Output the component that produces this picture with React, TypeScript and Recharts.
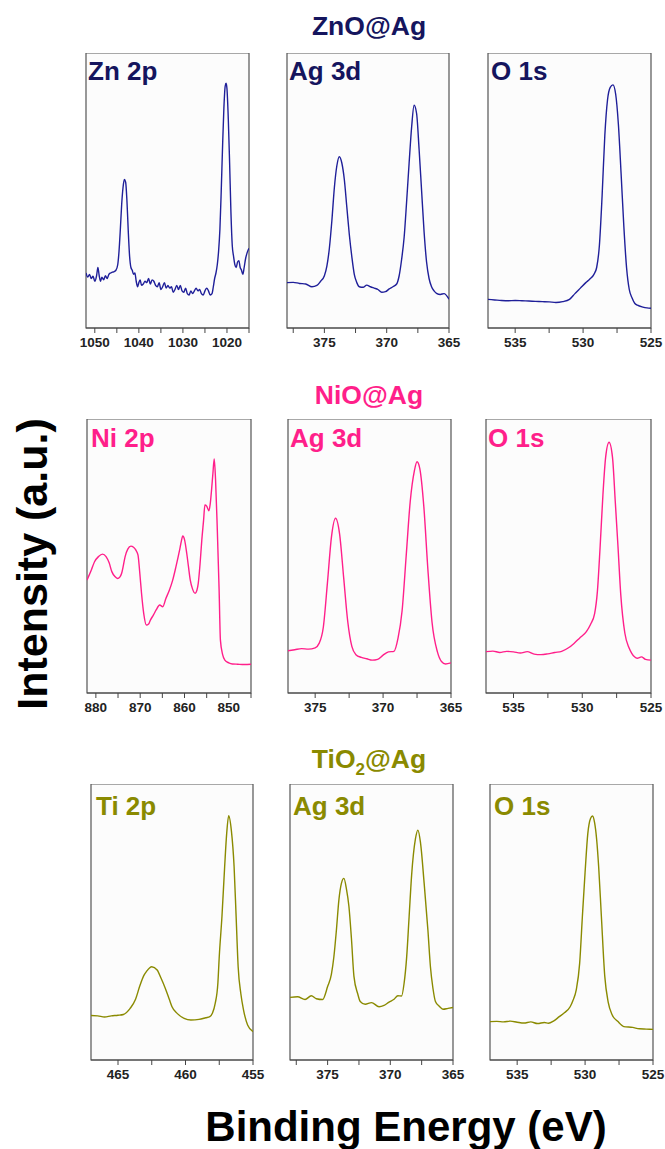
import { LineChart, Line, XAxis, YAxis, ReferenceArea } from 'recharts';

const FONT = '"Liberation Sans", Arial, sans-serif';

const NAVY_LINE = '#1f1f99';
const NAVY_TEXT = '#15155e';
const PINK = '#ff1f8a';
const OLIVE = '#8a8a00';

// ZnO@Ag
const znEnergy = [
  1052, 1051.6, 1051.2, 1050.8, 1050.4, 1050.0, 1049.6, 1049.3, 1049.0, 1048.7, 1048.4, 1048.0, 1047.6, 1047.2,
  1046.8, 1046.4, 1046.0, 1045.6, 1045.2, 1044.8, 1044.5, 1044.2, 1043.9, 1043.6, 1043.3, 1043.0, 1042.7, 1042.4,
  1042.1, 1041.8, 1041.5, 1041.2, 1040.9, 1040.6, 1040.3, 1040.0, 1039.7, 1039.4, 1039.0, 1038.6, 1038.2, 1037.8,
  1037.4, 1037.0, 1036.6, 1036.2, 1035.8, 1035.4, 1035.0, 1034.6, 1034.2, 1033.8, 1033.4, 1033.0, 1032.6, 1032.2,
  1031.8, 1031.4, 1031.0, 1030.6, 1030.2, 1029.8, 1029.4, 1029.0, 1028.6, 1028.2, 1027.8, 1027.4, 1027.0, 1026.6,
  1026.2, 1025.8, 1025.4, 1025.0, 1024.6, 1024.2, 1023.8, 1023.4, 1023.1, 1022.8, 1022.5, 1022.2, 1021.9, 1021.6,
  1021.3, 1021.0, 1020.7, 1020.4, 1020.2, 1020.0, 1019.7, 1019.4, 1019.1, 1018.8, 1018.5, 1018.2, 1017.9, 1017.6,
  1017.3, 1017.0, 1016.7, 1016.4, 1016.1, 1015.8, 1015.4, 1015.0,
];
const znIntensity = [
  20, 18.5, 19.5, 18, 18.8, 17, 19, 22, 19, 17, 18.5, 17.5, 19, 18,
  19.5, 20, 20.3, 20.5, 21, 23, 28, 36, 45, 51, 54, 53, 46, 35,
  26, 22, 21, 19.5, 20, 17, 15, 16.5, 17.5, 15.5, 16, 17, 16.5, 18,
  16, 17.5, 17, 15.5, 15, 16.5, 14, 15, 16.5, 14.5, 15.5, 14.5, 15, 13,
  14, 15.5, 14, 15.5, 13.5, 13, 14.5, 12.5, 12, 13.5, 12.5, 13.5, 14.5, 13.5,
  14, 12.5, 12, 13.5, 14.5, 13.5, 12, 12.5, 15, 18, 20, 23, 28, 36,
  50, 66, 80, 88, 89, 87, 76, 60, 42, 30, 26, 23, 22, 24,
  24.5, 22, 21, 19.5, 22, 25, 27.5, 29,
];

const znAgEnergy = [
  378, 377.5, 377.0, 376.5, 376.0, 375.6, 375.3, 375.0, 374.8, 374.6, 374.4, 374.2, 374.0, 373.8, 373.6, 373.4, 373.2,
  373.0, 372.8, 372.6, 372.4, 372.2, 371.9, 371.6, 371.3, 371.0, 370.7, 370.4, 370.1, 369.8, 369.5, 369.2, 369.0,
  368.8, 368.6, 368.4, 368.2, 368.0, 367.8, 367.6, 367.4, 367.2, 367.0, 366.8, 366.6, 366.4, 366.2, 366.0, 365.7,
  365.4, 365.0,
];
const znAgIntensity = [
  16.5, 16.6, 16.2, 16, 15, 15.5, 17, 19, 22.5, 29, 39, 51, 59, 62.3, 60, 54, 44,
  34, 26, 19.5, 16.5, 15, 14.8, 15.6, 15, 14.5, 14, 13, 13.2, 14.2, 15, 16, 19,
  25, 33, 46, 60, 73, 81, 78, 65, 50, 35, 24, 18, 15, 13.5, 12.6, 12.2,
  12.5, 10.5,
];

const znOEnergy = [
  537, 536.5, 536, 535.5, 535, 534.5, 534, 533.5, 533, 532.5, 532, 531.5, 531, 530.6, 530.2, 529.8, 529.5, 529.2,
  529.0, 528.8, 528.6, 528.4, 528.2, 528.0, 527.8, 527.6, 527.4, 527.2, 527.0, 526.8, 526.6, 526.4, 526.2, 526.0,
  525.6, 525.3, 525,
];
const znOIntensity = [
  10.4, 10.2, 10.0, 9.9, 10.0, 9.9, 9.8, 9.7, 9.6, 9.5, 9.3, 9.6, 10.4, 12.5, 14.5, 16.5, 17.8, 19.5,
  22, 30, 48, 70, 83, 87.5, 88.4, 85, 74, 56, 37, 22, 14, 11, 9, 8.3,
  7.6, 7.3, 7.2,
];

// NiO@Ag
const niEnergy = [
  882, 881, 880.3, 879.4, 878.5, 877.7, 877, 876.4, 875.7, 875.1, 874.6, 874.2, 873.8, 873.4, 872.8, 872.1, 871.5,
  871, 870.5, 870.1, 869.7, 869.2, 868.6, 868.1, 867.7, 867, 866.4, 865.6, 864.9, 864.2, 863.4, 862.7, 862.1, 861.6,
  861.1, 860.7, 860.4, 860.0, 859.5, 859.1, 858.7, 858.2, 857.6, 857.2, 856.9, 856.5, 856.1, 855.7, 855.4, 855.0,
  854.5, 854.2, 853.9, 853.6, 853.3, 853.0, 852.6, 852.2, 851.9, 851.4, 850.9, 850, 849.2, 848, 846.5, 845,
];
const niIntensity = [
  41.2, 45, 47.9, 49.8, 50.7, 49.8, 47.5, 44.3, 42.5, 41.8, 42.3, 43.6, 46.5, 49.8, 52.5, 53.6, 53.2,
  52.2, 50.4, 44, 36.4, 29, 24.8, 25.2, 26.6, 28.5, 30.3, 32.1, 31.5, 34.5, 37.6, 41, 44.9, 48.5,
  52.2, 55.5, 57.3, 56, 51, 46, 41.2, 38, 36.4, 37.5, 40, 47, 55.8, 63, 68.6, 68.2,
  66.5, 69, 74.1, 80, 85.4, 78, 59.5, 38, 19.3, 14, 12, 11, 10.6, 10.5, 10.4, 10.5,
];

const niAgEnergy = [
  377, 376.5, 376, 375.5, 375.0, 374.7, 374.4, 374.1, 373.8, 373.5, 373.2, 372.9, 372.6, 372.3, 372.0, 371.6, 371.2,
  370.8, 370.4, 370.0, 369.6, 369.2, 368.9, 368.6, 368.3, 368.0, 367.7, 367.5, 367.3, 367.0, 366.7, 366.4, 366.0,
  365.7, 365.4, 365.0,
];
const niAgIntensity = [
  15.4, 15.8, 16.2, 16, 16.5, 18.2, 24, 40, 57, 63.8, 58, 42, 26, 17, 14, 13, 12.5,
  12, 12.3, 13.8, 15, 15.2, 20, 30, 50, 70, 81, 84.4, 82, 68, 45, 26, 15,
  11.5, 10.6, 11,
];

const niOEnergy = [
  537, 536.5, 536, 535.5, 535, 534.5, 534, 533.5, 533, 532.5, 532, 531.5, 531, 530.6, 530.2, 529.7, 529.4, 529.1,
  528.9, 528.7, 528.5, 528.3, 528.05, 527.8, 527.6, 527.4, 527.2, 526.9, 526.6, 526.4, 526.2, 526.0, 525.7, 525.4, 525,
];
const niOIntensity = [
  15.1, 15.3, 14.8, 15.2, 15, 14.6, 15.1, 14.2, 14, 14.3, 14.8, 15.2, 16.5, 18.1, 20, 22.4, 25, 29,
  37, 53.4, 72, 86, 91.5, 86, 70, 53.4, 36, 21.8, 16.5, 14.5, 13.2, 12.7, 13.2, 12.3, 12,
];

// TiO2@Ag
const tiEnergy = [
  467, 466.5, 466, 465.5, 465, 464.6, 464.1, 463.7, 463.4, 463.1, 462.9, 462.5, 462.1, 461.8, 461.5, 461.2, 461.0,
  460.6, 460.1, 459.6, 459.0, 458.5, 458.2, 458.0, 457.8, 457.6, 457.5, 457.3, 457.1, 456.95, 456.8, 456.6, 456.4,
  456.25, 456.1, 455.9, 455.7, 455.4, 455,
];
const tiIntensity = [
  16.1, 16, 15.6, 16, 16.2, 16.5, 18.7, 22, 26.6, 30.5, 32, 33.8, 32.6, 29.5, 26, 22, 19.3,
  16.8, 15.1, 14.5, 14.7, 15.3, 15.7, 17, 20.5, 28, 37.4, 52, 70, 82, 88.5, 83, 70,
  52, 33.8, 24, 18.1, 12.7, 10.3,
];

const tiAgEnergy = [
  378, 377.4, 376.8, 376.3, 375.9, 375.4, 375.0, 374.7, 374.5, 374.3, 374.1, 373.9, 373.7, 373.5, 373.3, 373.1, 372.9,
  372.6, 372.4, 372.0, 371.5, 370.9, 370.5, 370.1, 369.7, 369.4, 369.1, 368.9, 368.7, 368.5, 368.3, 368.0, 367.8,
  367.6, 367.3, 367.0, 366.8, 366.6, 366.4, 366.1, 365.8, 365.4, 365.0,
];
const tiAgIntensity = [
  22.7, 22.9, 21.9, 23.3, 22.2, 21.9, 26.6, 31, 37.4, 47, 58, 64, 65.8, 62, 55.6, 44, 30.3,
  24, 21.2, 20.2, 20.8, 19.3, 19.8, 21, 22, 23.3, 23.2, 27.8, 37, 51.9, 67, 80, 83.3,
  79, 64, 47, 33.8, 26, 21.2, 19.5, 18.4, 18.7, 19,
];

const tiOEnergy = [
  537, 536.5, 536, 535.5, 535, 534.5, 534, 533.5, 533, 532.7, 532.3, 531.9, 531.5, 531.1, 530.9, 530.65, 530.4,
  530.2, 530.0, 529.8, 529.6, 529.45, 529.3, 529.15, 529.0, 528.8, 528.55, 528.3, 528.0, 527.6, 527.15, 526.5, 526,
  525.5, 525,
];
const tiOIntensity = [
  13.9, 14, 13.8, 14.1, 13.7, 13.4, 13.8, 13.2, 13.6, 13.3, 14.2, 15.7, 17.2, 19.3, 21.5, 25.4, 35,
  51.9, 68, 82, 87.5, 88.4, 86, 80, 70, 52, 30.3, 21, 16.3, 14, 12.1, 11.8, 11.3,
  11.2, 11.1,
];

// axis ticks
const znTicks = [1050, 1040, 1030, 1020];
const znMinor = [1045, 1035, 1025, 1015];
const niTicks = [880, 870, 860, 850];
const niMinor = [875, 865, 855, 845];
const tiTicks = [465, 460, 455];
const tiMinor = [462.5, 457.5];
const agTicks = [375, 370, 365];
const agMinor = [377.5, 372.5, 367.5];
const oTicks = [535, 530, 525];
const oMinor = [532.5, 527.5];

const toRows = (e: number[], v: number[]) => e.map((x, i) => ({ e: x, v: v[i] }));

interface PanelProps {
  x: number;
  y: number;
  w: number;
  h: number;
  energy: number[];
  intensity: number[];
  domain: [number, number];
  major: number[];
  minor: number[];
  color: string;
}

const PAD = 22;
const AXIS_H = 30;

function Panel({ x, y, w, h, energy, intensity, domain, major, minor, color }: PanelProps) {
  const ticks = [...major, ...minor].filter((t) => t >= domain[0] && t <= domain[1]).sort((a, b) => a - b);
  return (
    <div style={{ position: 'absolute', left: x - PAD, top: y }}>
      <LineChart
        width={w + PAD * 2}
        height={h + AXIS_H}
        data={toRows(energy, intensity)}
        margin={{ top: 0, right: PAD, left: PAD, bottom: 0 }}
      >
        <XAxis
          type="number"
          dataKey="e"
          domain={domain}
          reversed
          allowDataOverflow
          ticks={ticks}
          interval={0}
          height={AXIS_H}
          tickSize={5}
          tickMargin={4}
          stroke="#444"
          tickFormatter={(t: number) => (major.includes(t) ? String(t) : '')}
          tick={{ fill: '#222', fontSize: 13.5, fontWeight: 700, fontFamily: FONT }}
        />
        <YAxis hide domain={[0, 100]} />
        <ReferenceArea
          x1={domain[0]}
          x2={domain[1]}
          y1={0}
          y2={100}
          stroke="#555"
          strokeWidth={1.2}
          fill="#fcfcfc"
          fillOpacity={1}
        />
        <Line
          type="monotone"
          dataKey="v"
          stroke={color}
          strokeWidth={1.4}
          dot={false}
          isAnimationActive={false}
        />
      </LineChart>
    </div>
  );
}

export default function App() {
  return (
    <div style={{ position: 'absolute', left: 0, top: 0, width: 665, height: 1149, background: '#fff' }}>
      <Panel x={86} y={53} w={163} h={275} energy={znEnergy} intensity={znIntensity} domain={[1015, 1052]} major={znTicks} minor={znMinor} color={NAVY_LINE} />
      <Panel x={287} y={53} w={162} h={275} energy={znAgEnergy} intensity={znAgIntensity} domain={[365, 378]} major={agTicks} minor={agMinor} color={NAVY_LINE} />
      <Panel x={488} y={53} w={163} h={275} energy={znOEnergy} intensity={znOIntensity} domain={[525, 537]} major={oTicks} minor={oMinor} color={NAVY_LINE} />

      <Panel x={87} y={419} w={164} h={274} energy={niEnergy} intensity={niIntensity} domain={[845, 882]} major={niTicks} minor={niMinor} color={PINK} />
      <Panel x={288} y={419} w={163} h={274} energy={niAgEnergy} intensity={niAgIntensity} domain={[365, 377]} major={agTicks} minor={agMinor} color={PINK} />
      <Panel x={486} y={419} w={165} h={274} energy={niOEnergy} intensity={niOIntensity} domain={[525, 537]} major={oTicks} minor={oMinor} color={PINK} />

      <Panel x={91} y={784} w={162} h={276} energy={tiEnergy} intensity={tiIntensity} domain={[455, 467]} major={tiTicks} minor={tiMinor} color={OLIVE} />
      <Panel x={290} y={784} w={163} h={276} energy={tiAgEnergy} intensity={tiAgIntensity} domain={[365, 378]} major={agTicks} minor={agMinor} color={OLIVE} />
      <Panel x={490} y={784} w={163} h={276} energy={tiOEnergy} intensity={tiOIntensity} domain={[525, 537]} major={oTicks} minor={oMinor} color={OLIVE} />

      <svg
        width={665}
        height={1149}
        style={{ position: 'absolute', left: 0, top: 0, pointerEvents: 'none' }}
        fontFamily={FONT}
        fontWeight={700}
      >
        <text x={369} y={35} textAnchor="middle" fontSize={26.5} fill={NAVY_TEXT}>ZnO@Ag</text>
        <text x={369} y={404} textAnchor="middle" fontSize={26.5} fill={PINK}>NiO@Ag</text>
        <text x={369} y={768} textAnchor="middle" fontSize={26.5} fill={OLIVE}>
          TiO<tspan fontSize={17} dy={7}>2</tspan><tspan dy={-7}>@Ag</tspan>
        </text>

        <text x={88} y={80} fontSize={26} fill={NAVY_TEXT}>Zn 2p</text>
        <text x={289} y={80} fontSize={26} fill={NAVY_TEXT}>Ag 3d</text>
        <text x={491} y={80} fontSize={26} fill={NAVY_TEXT}>O 1s</text>

        <text x={91} y={447} fontSize={26} fill={PINK}>Ni 2p</text>
        <text x={290} y={447} fontSize={26} fill={PINK}>Ag 3d</text>
        <text x={488} y={447} fontSize={26} fill={PINK}>O 1s</text>

        <text x={96} y={815} fontSize={26} fill={OLIVE}>Ti 2p</text>
        <text x={293} y={815} fontSize={26} fill={OLIVE}>Ag 3d</text>
        <text x={494} y={815} fontSize={26} fill={OLIVE}>O 1s</text>

        <text
          x={0}
          y={0}
          transform="translate(47, 564) rotate(-90)"
          textAnchor="middle"
          fontSize={43}
          fill="#000"
        >
          Intensity (a.u.)
        </text>
        <text x={406} y={1141} textAnchor="middle" fontSize={42} fill="#000">Binding Energy (eV)</text>
      </svg>
    </div>
  );
}
